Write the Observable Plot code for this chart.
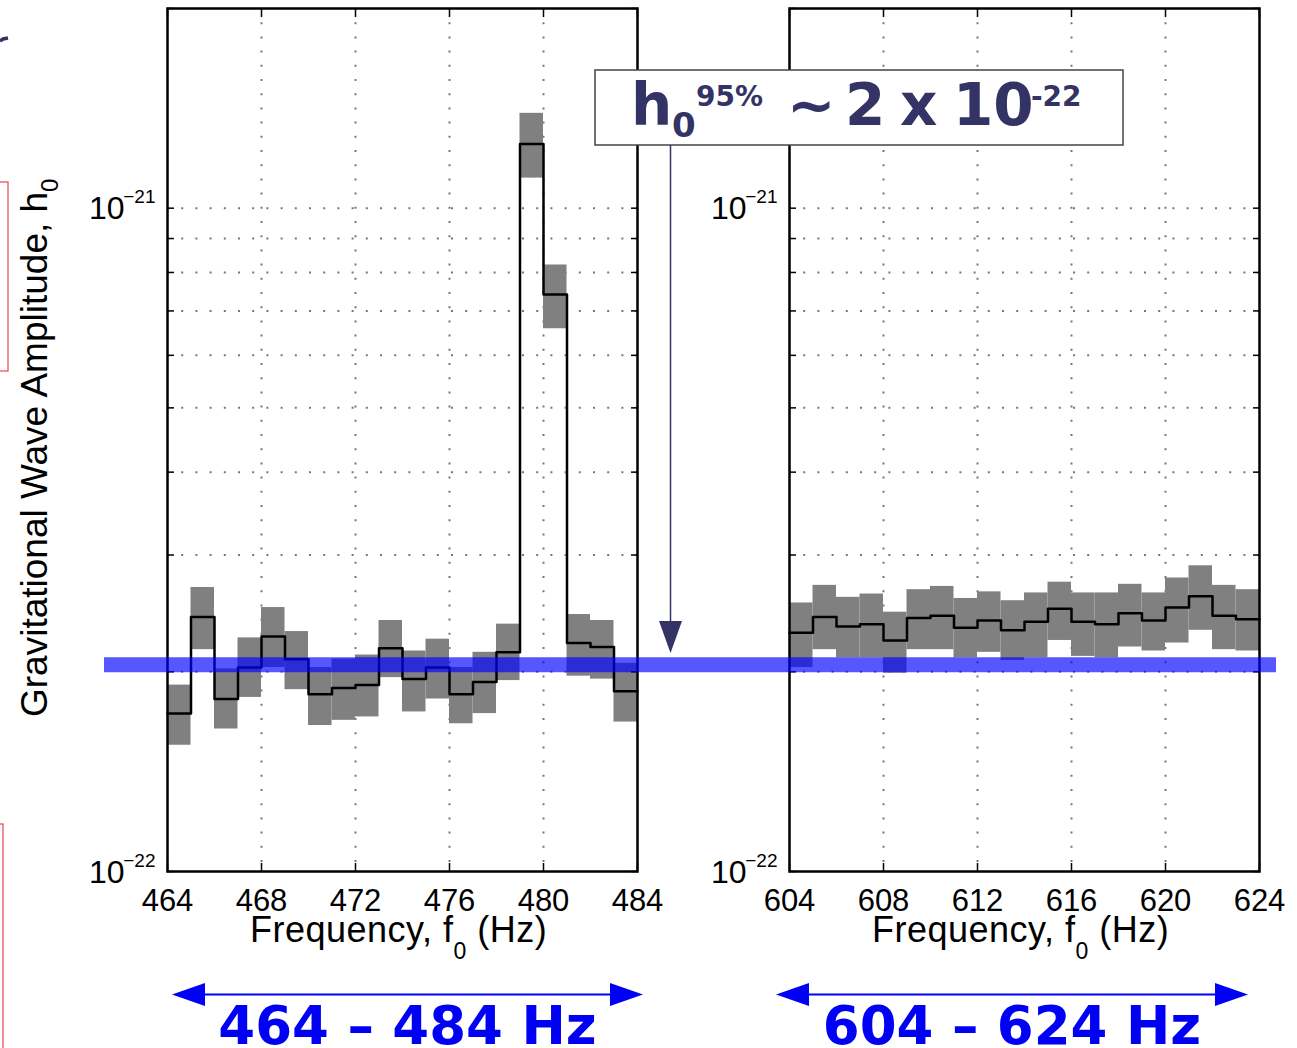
<!DOCTYPE html>
<html><head><meta charset="utf-8">
<script src="https://cdn.jsdelivr.net/npm/d3@7"></script>
<script src="https://cdn.jsdelivr.net/npm/@observablehq/plot@0.6"></script>
<style>
body{margin:0;background:#fff;}
#wrap{position:relative;width:1297px;height:1048px;overflow:hidden;background:#fff;}
</style></head><body><div id="wrap"></div>
<script>
// ---- data (amplitudes in strain) ----
const freqLow  = [464,465,466,467,468,469,470,471,472,473,474,475,476,477,478,479,480,481,482,483];
const ampLow   = [1.73e-22,2.42e-22,1.82e-22,2.03e-22,2.26e-22,2.09e-22,1.85e-22,1.89e-22,1.91e-22,2.17e-22,1.95e-22,2.03e-22,1.85e-22,1.93e-22,2.14e-22,12.5e-22,7.41e-22,2.21e-22,2.18e-22,1.87e-22];
const hiLow    = [1.91e-22,2.68e-22,2.02e-22,2.25e-22,2.50e-22,2.30e-22,2.03e-22,2.09e-22,2.12e-22,2.39e-22,2.15e-22,2.24e-22,2.03e-22,2.14e-22,2.36e-22,13.9e-22,8.21e-22,2.44e-22,2.39e-22,2.06e-22];
const loLow    = [1.55e-22,2.16e-22,1.64e-22,1.83e-22,2.03e-22,1.88e-22,1.66e-22,1.69e-22,1.71e-22,1.96e-22,1.74e-22,1.82e-22,1.67e-22,1.73e-22,1.94e-22,11.1e-22,6.58e-22,1.97e-22,1.95e-22,1.68e-22];

const freqHigh = [604,605,606,607,608,609,610,611,612,613,614,615,616,617,618,619,620,621,622,623];
const ampHigh  = [2.29e-22,2.42e-22,2.34e-22,2.36e-22,2.23e-22,2.41e-22,2.43e-22,2.33e-22,2.39e-22,2.31e-22,2.38e-22,2.49e-22,2.38e-22,2.36e-22,2.45e-22,2.39e-22,2.50e-22,2.60e-22,2.43e-22,2.40e-22];
const hiHigh   = [2.54e-22,2.70e-22,2.59e-22,2.62e-22,2.46e-22,2.66e-22,2.69e-22,2.58e-22,2.64e-22,2.56e-22,2.63e-22,2.73e-22,2.63e-22,2.63e-22,2.71e-22,2.63e-22,2.77e-22,2.89e-22,2.70e-22,2.66e-22];
const loHigh   = [2.03e-22,2.16e-22,2.10e-22,2.10e-22,1.99e-22,2.16e-22,2.16e-22,2.10e-22,2.14e-22,2.08e-22,2.10e-22,2.23e-22,2.11e-22,2.10e-22,2.18e-22,2.15e-22,2.21e-22,2.31e-22,2.16e-22,2.15e-22];

const upperLimit = 2.05e-22;

const xTicksLow  = [464,468,472,476,480,484];
const xTicksHigh = [604,608,612,616,620,624];
const xGridLow   = [468,472,476,480];
const xGridHigh  = [608,612,616,620];
const yDomain    = [1e-22, 2e-21];
const yMinorTicks= [1e-22,2e-22,3e-22,4e-22,5e-22,6e-22,7e-22,8e-22,9e-22,1e-21,2e-21];
const yGrid      = [2e-22,3e-22,4e-22,5e-22,6e-22,7e-22,8e-22,9e-22,1e-21];
const yMajor     = [1e-22, 1e-21];
const yMajorExp  = ["\u221222", "\u221221"];

const FONT = "'Liberation Sans', Arial, Helvetica, sans-serif";
const wrap = document.getElementById("wrap");

function panel(freq, amp, lo, hi, xTicks, xGrid, {width, marginLeft, marginRight, left}) {
  const bands = freq.map((f, i) => ({f, lo: lo[i], hi: hi[i]}));
  const steps = freq.map((f, i) => ({f, v: amp[i]}));
  steps.push({f: freq[freq.length - 1] + 1, v: amp[amp.length - 1]});
  const majors = yMajor.map((v, i) => ({v, e: yMajorExp[i]}));
  const p = Plot.plot({
    width, height: 1048,
    marginLeft, marginRight, marginTop: 8, marginBottom: 177,
    x: {domain: [xTicks[0], xTicks[xTicks.length - 1]]},
    y: {type: "log", domain: yDomain},
    style: {background: "transparent", overflow: "visible", fontFamily: FONT, color: "#000"},
    marks: [
      Plot.ruleX(xGrid, {stroke: "#777", strokeWidth: 2, strokeDasharray: "2,12.2"}),
      Plot.ruleY(yGrid, {stroke: "#777", strokeWidth: 2, strokeDasharray: "2,12.2"}),
      Plot.rect(bands, {x1: "f", x2: d => d.f + 1, y1: "lo", y2: "hi", fill: "#808080"}),
      Plot.line(steps, {x: "f", y: "v", curve: "step-after", stroke: "#000", strokeWidth: 2.5}),
      Plot.axisX(xTicks, {anchor: "bottom", tickSize: -8, fill: "none", stroke: "#000", strokeWidth: 1.5, label: null}),
      Plot.axisX(xTicks, {anchor: "top", tickSize: -8, fill: "none", stroke: "#000", strokeWidth: 1.5, label: null}),
      Plot.axisX(xTicks, {anchor: "bottom", tickSize: 0, tickPadding: 17, fontSize: 31, tickFormat: d => String(d), label: null}),
      Plot.axisY(yMinorTicks, {anchor: "left", tickSize: -7, fill: "none", stroke: "#000", strokeWidth: 1.5, label: null}),
      Plot.axisY(yMinorTicks, {anchor: "right", tickSize: -7, fill: "none", stroke: "#000", strokeWidth: 1.5, label: null}),
      Plot.text(majors, {y: "v", text: () => "10", frameAnchor: "left", dx: -43, dy: 1, textAnchor: "end", fontSize: 32}),
      Plot.text(majors, {y: "v", text: "e", frameAnchor: "left", dx: -12, dy: -11, textAnchor: "end", fontSize: 19}),
      Plot.frame({stroke: "#000", strokeWidth: 2.5})
    ]
  });
  p.style.position = "absolute";
  p.style.top = "0px";
  p.style.left = left + "px";
  wrap.appendChild(p);
}

panel(freqLow, ampLow, loLow, hiLow, xTicksLow, xGridLow, {width: 660, marginLeft: 167, marginRight: 23, left: 0});
panel(freqHigh, ampHigh, loHigh, hiHigh, xTicksHigh, xGridHigh, {width: 637, marginLeft: 129, marginRight: 38, left: 660});

// overlay: the upper-limit line spanning both panels
const ov = Plot.plot({
  width: 1297, height: 1048,
  marginLeft: 104, marginRight: 21, marginTop: 8, marginBottom: 177,
  y: {type: "log", domain: yDomain, axis: null},
  style: {background: "transparent", overflow: "visible"},
  marks: [Plot.ruleY([upperLimit], {stroke: "#0000ff", strokeOpacity: 0.66, strokeWidth: 15})]
});
ov.style.position = "absolute"; ov.style.top = "0px"; ov.style.left = "0px";
wrap.appendChild(ov);

// annotations and labels
const svg = d3.select(wrap).append("svg")
  .attr("width", 1297).attr("height", 1048)
  .style("position", "absolute").style("top", "0px").style("left", "0px");

// cropped decorations on left edge
svg.append("rect").attr("x", -200).attr("y", 182).attr("width", 208).attr("height", 189)
  .attr("fill", "none").attr("stroke", "#e8474d").attr("stroke-width", 1.2);
svg.append("rect").attr("x", -200).attr("y", 824).attr("width", 203).attr("height", 400)
  .attr("fill", "none").attr("stroke", "#e8474d").attr("stroke-width", 1.2);
svg.append("path").attr("d", "M0,41 L3,39 L8,38").attr("stroke", "#333366").attr("stroke-width", 3.5).attr("fill", "none");

// y label
const yl = svg.append("text").attr("transform", "translate(47,717) rotate(-90)")
  .attr("font-family", FONT).attr("font-size", 37).attr("fill", "#000");
yl.append("tspan").text("Gravitational Wave Amplitude, h");
yl.append("tspan").attr("font-size", 24).attr("dy", 11).text("0");

// x labels
for (const x0 of [250, 872]) {
  const t = svg.append("text").attr("x", x0).attr("y", 942)
    .attr("font-family", FONT).attr("font-size", 36).attr("letter-spacing", 0.5).attr("fill", "#000");
  t.append("tspan").text("Frequency, f");
  t.append("tspan").attr("font-size", 23).attr("dy", 17).text("0");
  t.append("tspan").attr("dy", -17).text(" (Hz)");
}

// annotation box
svg.append("rect").attr("x", 595).attr("y", 70).attr("width", 528).attr("height", 75)
  .attr("fill", "#fff").attr("stroke", "#444").attr("stroke-width", 1.5);
const NAVY = "#333366";
const at = svg.append("text").attr("y", 125).attr("font-family", "'DejaVu Sans', Verdana, sans-serif")
  .attr("font-weight", "bold").attr("fill", NAVY).attr("font-size", 58);
at.append("tspan").attr("x", 631).text("h");
at.append("tspan").attr("x", 672).attr("y", 137).attr("font-size", 34).text("0");
at.append("tspan").attr("x", 696).attr("y", 106).attr("font-size", 28).text("95%");
at.append("tspan").attr("x", 787).attr("y", 125).text("\u223C");
at.append("tspan").attr("x", 845).attr("y", 125).text("2");
at.append("tspan").attr("x", 900).attr("y", 125).text("x");
at.append("tspan").attr("x", 953).attr("y", 125).text("10");
at.append("tspan").attr("x", 1031).attr("y", 106).attr("font-size", 28).text("-22");

// arrow to the line
svg.append("line").attr("x1", 670.5).attr("x2", 670.5).attr("y1", 145).attr("y2", 625)
  .attr("stroke", NAVY).attr("stroke-width", 1.5);
svg.append("path").attr("d", "M659,621 L682,621 L670.5,653 Z").attr("fill", NAVY);

// frequency range arrows
const BLUE = "#0000f5";
function rangeArrow(xl, xr, label) {
  svg.append("line").attr("x1", xl + 30).attr("x2", xr - 30).attr("y1", 994.5).attr("y2", 994.5)
    .attr("stroke", BLUE).attr("stroke-width", 2);
  svg.append("path").attr("d", `M${xl},994.5 L${xl + 33},983 L${xl + 33},1006 Z`).attr("fill", BLUE);
  svg.append("path").attr("d", `M${xr},994.5 L${xr - 33},983 L${xr - 33},1006 Z`).attr("fill", BLUE);
  svg.append("text").attr("x", (xl + xr) / 2).attr("y", 1044).attr("text-anchor", "middle")
    .attr("font-family", "'DejaVu Sans', Verdana, sans-serif").attr("font-weight", "bold")
    .attr("font-size", 53).attr("fill", BLUE).text(label);
}
rangeArrow(172, 643, "464 \u2013 484 Hz");
rangeArrow(776, 1248, "604 \u2013 624 Hz");
</script></body></html>
